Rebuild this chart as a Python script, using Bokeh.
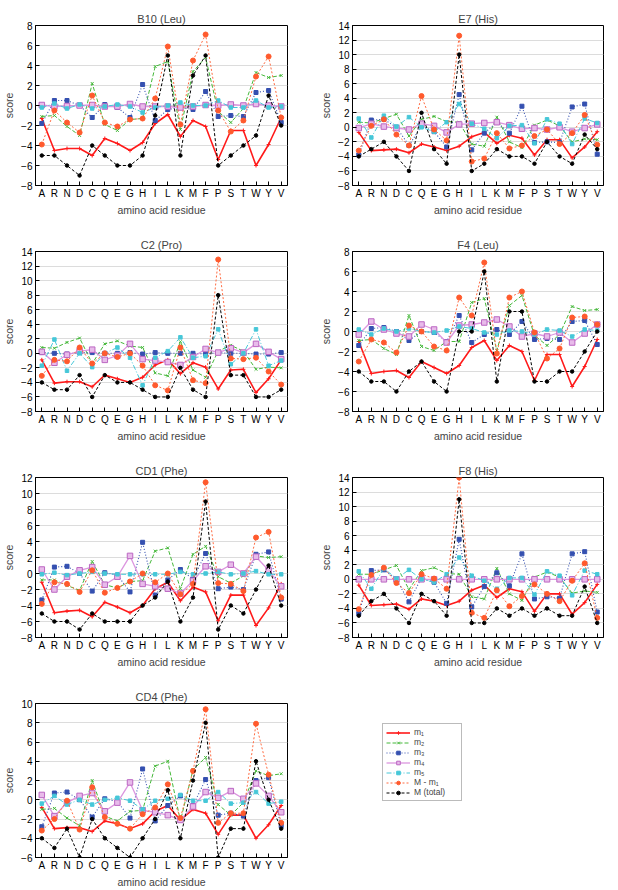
from bokeh.plotting import figure
from bokeh.layouts import column, row
from bokeh.models import (Range1d, FactorRange, SingleIntervalTicker, Legend,
                          LegendItem, ColumnDataSource)
from bokeh.embed import file_html
from bokeh.resources import INLINE

residues = ["A", "R", "N", "D", "C", "Q", "E", "G", "H", "I",
            "L", "K", "M", "F", "P", "S", "T", "W", "Y", "V"]

series_names = ["m\u2081", "m\u2082", "m\u2083", "m\u2084", "m\u2085", "M - m\u2081", "M (total)"]

# ---- B10 (Leu) ----
B10_m1 = [-1.3, -4.5, -4.3, -4.3, -5.0, -3.3, -3.8, -4.5, -3.7, -1.8, -0.9, -3.1, -1.5, -2.1, -5.4, -2.5, -2.5, -6.0, -3.9, -1.2]
B10_m2 = [-1.1, -1.0, -2.1, -3.0, 2.2, -1.9, -2.5, -1.4, -1.3, 3.9, 4.4, -2.4, 3.4, 4.8, -0.6, -1.7, -0.3, 3.3, 2.8, 3.0]
B10_m3 = [-1.8, 0.5, 0.5, 0.0, -1.2, 0.1, -0.2, -1.2, 2.1, -1.5, -0.4, -0.2, -0.4, 1.4, -1.1, -1.0, -1.1, 1.3, 1.5, -1.7]
B10_m4 = [0.05, -0.1, -0.05, 0.0, 0.05, -0.1, -0.1, 0.15, -0.1, -0.1, -0.1, -0.2, -0.1, 0.05, 0.0, 0.1, 0.0, 0.15, 0.0, -0.1]
B10_m5 = [-0.2, 0.2, -0.3, 0.1, -0.3, -0.1, 0.1, -0.1, -0.7, -0.2, 0.0, 0.3, 0.0, 0.0, 0.5, -0.2, -0.2, 0.5, -0.2, -0.1]
B10_Mm1 = [-3.9, -0.5, -1.7, -2.7, 1.0, -1.7, -2.1, -1.4, -1.3, 0.7, 5.9, -1.9, 4.5, 7.1, -0.5, -2.6, -1.5, 2.9, 4.9, -1.2]
B10_M = [-5, -5, -6, -7, -4, -5, -6, -6, -5, -1, 5, -5, 3, 5, -6, -5, -4, -3, 1, -2]

# ---- E7 (His) ----
E7_m1 = [-0.7, -3.2, -3.1, -3.0, -3.5, -2.3, -2.7, -3.2, -2.6, -1.3, -0.7, -2.2, -1.1, -1.5, -3.8, -1.7, -1.7, -4.2, -2.7, -0.6]
E7_m2 = [0.7, 0.6, 1.2, 1.8, -1.2, 1.1, 1.5, 0.8, 0.7, -2.3, -2.6, 1.4, -2.0, -2.8, 0.3, 1.0, 0.2, -2.0, -1.6, -1.7]
E7_m3 = [-3.8, 1.0, 1.1, 0.0, -2.5, 0.2, -0.6, -2.7, 4.5, -3.1, -0.8, 0.7, -0.8, 2.9, -2.1, -2.0, -2.1, 2.8, 3.2, -3.7]
E7_m4 = [-0.1, 0.5, 0.1, -0.1, -0.3, 0.5, 0.2, -0.7, 0.4, 0.5, 0.6, 0.7, 0.3, -0.2, -0.1, -0.3, 0.0, -0.6, -0.1, 0.4]
E7_m5 = [1.2, -1.4, 1.6, 0.1, 1.4, 0.0, -0.6, 0.7, 3.2, 0.5, -0.2, -1.5, 0.2, 0.3, -2.2, 1.1, 0.5, -2.3, 1.2, 0.6]
E7_Mm1 = [-3.2, 0.2, 1.1, -1.0, -2.5, 4.3, -0.3, -1.8, 12.6, -4.7, -4.3, -0.8, -2.9, -2.5, -1.2, -0.3, -2.3, -0.8, 1.7, -2.4]
E7_M = [-4, -3, -2, -4, -6, 2, -3, -5, 10, -6, -5, -3, -4, -4, -5, -2, -4, -5, -1, -3]

# ---- C2 (Pro) ----
C2_m1 = [-0.9, -4.1, -3.9, -3.9, -4.6, -3.0, -3.5, -4.0, -3.3, -1.6, -0.9, -2.8, -1.3, -1.9, -4.9, -2.3, -2.2, -5.4, -3.5, -0.9]
C2_m2 = [0.8, 0.7, 1.5, 2.1, -1.4, 1.3, 1.7, 1.0, 0.8, -2.7, -3.1, 1.6, -2.3, -3.3, 0.3, 1.1, 0.3, -2.2, -1.9, -2.0]
C2_m3 = [0.1, 0.0, -0.1, 0.1, 0.1, 0.0, 0.0, 0.1, -0.1, 0.1, 0.0, 0.0, 0.0, -0.1, 0.1, 0.0, 0.0, -0.1, -0.1, 0.1]
C2_m4 = [0.2, -1.3, -0.2, 0.3, 0.5, -0.9, -0.3, 1.3, -0.8, -1.0, -1.2, -1.6, -0.5, 0.6, 0.1, 0.7, 0.1, 1.3, 0.2, -0.8]
C2_m5 = [-1.7, 1.9, -2.4, 0.0, -1.9, 0.0, 0.8, -0.6, -4.4, -0.6, 0.3, 2.2, -0.6, -0.4, 3.3, -1.5, 0.0, 3.3, -1.7, -1.0]
C2_Mm1 = [-3.1, -0.9, -1.1, 0.8, -1.4, 0.0, -0.5, 0.0, -1.7, -4.4, -5.1, 0.8, -3.7, -4.1, 12.9, -0.7, -0.8, -0.6, -2.5, -4.3]
C2_M = [-4, -5, -5, -3, -6, -3, -4, -4, -5, -6, -6, -2, -5, -6, 8, -3, -3, -6, -6, -5]

# ---- F4 (Leu) ----
F4_m1 = [-1.0, -4.2, -4.0, -3.9, -4.6, -3.0, -3.6, -4.2, -3.4, -1.6, -0.9, -2.9, -1.4, -2.0, -4.9, -2.3, -2.3, -5.5, -3.5, -0.8]
F4_m2 = [-0.9, -0.8, -1.7, -2.3, 1.6, -1.5, -1.9, -1.0, -1.0, 2.9, 3.3, -1.9, 2.6, 3.6, -0.4, -1.4, -0.3, 2.5, 2.1, 2.2]
F4_m3 = [-1.4, 0.3, 0.4, 0.0, -0.9, 0.0, -0.1, -1.0, 1.6, -1.1, -0.3, 0.2, -0.3, 1.0, -0.8, -0.7, -0.8, 1.0, 1.1, -1.3]
F4_m4 = [-0.3, 1.0, 0.2, -0.2, -0.5, 0.7, 0.2, -1.1, 0.6, 0.7, 0.9, 1.2, 0.5, -0.5, -0.2, -0.5, -0.1, -1.1, -0.2, 0.7]
F4_m5 = [0.2, -0.3, 0.3, 0.0, 0.3, 0.0, -0.1, 0.1, 0.5, 0.3, -0.1, -0.3, 0.1, 0.0, -0.3, 0.2, 0.1, -0.5, 0.2, 0.1]
F4_Mm1 = [-3.0, -0.8, -1.1, -2.1, 0.6, 0.0, -1.5, -1.9, 3.4, 1.6, 6.9, -2.2, 3.4, 4.0, -0.1, -2.7, -1.7, 1.4, 1.5, 0.7]
F4_M = [-4, -5, -5, -6, -4, -3, -5, -6, 0, 0, 6, -5, 2, 2, -5, -5, -4, -4, -2, 0]

# ---- CD1 (Phe) ----
CD1_m1 = [-1.1, -4.9, -4.7, -4.6, -5.4, -3.6, -4.2, -4.9, -4.0, -1.9, -1.1, -3.4, -1.7, -2.3, -5.9, -2.7, -2.7, -6.5, -4.3, -1.3]
CD1_m2 = [-0.8, -0.8, -1.5, -2.1, 1.5, -1.4, -1.8, -1.0, -0.9, 2.8, 3.2, -1.9, 2.4, 3.4, -0.4, -1.2, -0.3, 2.2, 2.0, 2.1]
CD1_m3 = [-3.3, 0.8, 0.9, 0.0, -2.2, 0.1, -0.2, -2.3, 3.9, -2.7, -0.8, 0.5, -0.7, 2.5, -1.9, -1.7, -2.0, 2.4, 2.7, -3.2]
CD1_m4 = [0.5, -2.0, -0.4, 0.4, 0.8, -1.4, -0.4, 2.2, -1.3, -1.6, -1.9, -2.5, -0.9, 0.9, 0.2, 1.1, 0.0, 2.1, 0.4, -1.6]
CD1_m5 = [-0.1, 0.1, -0.2, 0.0, 0.2, 0.0, -0.1, -0.1, -0.1, -0.1, -0.1, 0.2, -0.1, 0.0, 0.2, -0.1, 0.0, 0.3, -0.1, -0.1]
CD1_Mm1 = [-3.8, -1.1, -1.3, -2.3, 0.4, -2.4, -1.8, -1.0, 0.0, -1.1, 0.0, -2.6, -1.3, 11.4, -1.2, -1.3, -2.2, 4.5, 5.2, -3.0]
CD1_M = [-5, -6, -6, -7, -5, -6, -6, -6, -4, -3, -1, -6, -3, 9, -7, -4, -5, -2, 1, -4]

# ---- F8 (His) ----
F8_m1 = [-0.8, -3.6, -3.5, -3.4, -4.1, -2.7, -3.0, -3.6, -3.0, -1.5, -0.8, -2.5, -1.3, -1.7, -4.4, -2.0, -2.0, -4.8, -3.2, -0.7]
F8_m2 = [0.7, 0.7, 1.3, 1.9, -1.4, 1.2, 1.6, 0.8, 0.7, -2.4, -2.7, 1.5, -2.0, -2.9, 0.3, 1.0, 0.3, -1.9, -1.6, -1.8]
F8_m3 = [-4.7, 1.2, 1.3, 0.0, -3.1, 0.2, -0.4, -3.3, 5.5, -3.8, -1.0, 0.9, -0.9, 3.5, -2.7, -2.4, -2.6, 3.5, 3.8, -4.5]
F8_m4 = [0.0, 0.0, 0.0, 0.0, 0.0, 0.0, 0.0, 0.0, 0.0, 0.0, 0.0, 0.0, 0.0, 0.0, 0.0, 0.0, 0.0, 0.0, 0.0, 0.0]
F8_m5 = [1.1, -1.3, 1.5, 0.1, 1.3, 0.0, -0.4, 0.7, 3.0, 0.5, -0.2, -1.3, 0.2, 0.2, -2.1, 1.1, 0.5, -2.2, 1.2, 0.7]
F8_Mm1 = [-4.1, 0.6, 1.6, -0.5, -1.9, 0.7, 0.1, -1.3, 14.0, -4.6, -5.3, -1.5, -3.7, -2.3, -0.7, -2.0, -3.0, -0.2, 2.2, -5.3]
F8_M = [-5, -3, -2, -4, -6, -2, -3, -5, 11, -6, -6, -4, -5, -4, -5, -4, -5, -5, -1, -6]

# ---- CD4 (Phe) ----
CD4_m1 = [-0.8, -3.0, -2.9, -2.9, -3.3, -2.2, -2.5, -3.0, -2.5, -1.2, -0.6, -2.1, -1.0, -1.4, -3.6, -1.6, -1.6, -4.0, -2.6, -0.6]
CD4_m2 = [-1.0, -0.9, -1.9, -2.7, 2.0, -1.7, -2.2, -1.2, -1.1, 3.5, 4.0, -2.2, 3.1, 4.4, -0.5, -1.6, -0.3, 3.0, 2.5, 2.7]
CD4_m3 = [-2.8, 0.7, 0.8, 0.0, -1.8, 0.1, -0.2, -1.9, 3.2, -2.2, -0.6, 0.4, -0.6, 2.1, -1.6, -1.4, -1.7, 2.0, 2.3, -2.7]
CD4_m4 = [0.5, -1.7, -0.3, 0.4, 0.7, -1.2, -0.3, 1.8, -1.1, -1.3, -1.6, -2.1, -0.7, 0.8, 0.2, 0.9, 0.1, 1.7, 0.4, -1.3]
CD4_m5 = [-0.4, 0.4, -0.5, 0.0, -0.5, 0.0, 0.2, -0.1, -1.0, -0.1, 0.1, 0.5, -0.1, -0.1, 0.8, -0.4, -0.3, 0.8, -0.4, -0.2]
CD4_Mm1 = [-3.2, -2.0, -0.1, -3.1, 1.3, -1.8, -2.5, -3.0, -1.5, -0.8, 1.6, -1.9, 3.0, 9.4, -2.4, -1.4, -1.4, 7.9, 2.6, -2.4]
CD4_M = [-4, -5, -3, -6, -2, -4, -5, -6, -4, -2, 1, -4, 2, 8, -6, -3, -3, 4, 0, -3]

panels = [
    ("B10 (Leu)", -8, 8, [B10_m1, B10_m2, B10_m3, B10_m4, B10_m5, B10_Mm1, B10_M]),
    ("E7 (His)", -8, 14, [E7_m1, E7_m2, E7_m3, E7_m4, E7_m5, E7_Mm1, E7_M]),
    ("C2 (Pro)", -8, 14, [C2_m1, C2_m2, C2_m3, C2_m4, C2_m5, C2_Mm1, C2_M]),
    ("F4 (Leu)", -8, 8, [F4_m1, F4_m2, F4_m3, F4_m4, F4_m5, F4_Mm1, F4_M]),
    ("CD1 (Phe)", -8, 12, [CD1_m1, CD1_m2, CD1_m3, CD1_m4, CD1_m5, CD1_Mm1, CD1_M]),
    ("F8 (His)", -8, 14, [F8_m1, F8_m2, F8_m3, F8_m4, F8_m5, F8_Mm1, F8_M]),
    ("CD4 (Phe)", -6, 10, [CD4_m1, CD4_m2, CD4_m3, CD4_m4, CD4_m5, CD4_Mm1, CD4_M]),
]

styles = [
    dict(color="#ff1a1a", lw=1.6, dash="solid", marker="cross", size=4, fill="#ff1a1a", mline="#ff1a1a"),
    dict(color="#45b83a", lw=1.0, dash="4 2", marker="x", size=4, fill="#45b83a", mline="#45b83a"),
    dict(color="#3550b0", lw=1.1, dash="1 2", marker="square", size=4, fill="#3550b0", mline="#3550b0"),
    dict(color="#dc96df", lw=1.3, dash="solid", marker="square", size=5.5, fill="#e8bbea", mline="#bb66c2"),
    dict(color="#46c7d8", lw=1.0, dash="5 2 1 2", marker="square", size=3.5, fill="#46c7d8", mline="#46c7d8"),
    dict(color="#ff6a40", lw=1.0, dash="2 2", marker="circle", size=5, fill="#ff5a2d", mline="#ff5a2d"),
    dict(color="#000000", lw=1.0, dash="3 2", marker="circle", size=3.5, fill="#000000", mline="#000000"),
]

FONT = "Liberation Sans"
row_heights = [227, 226, 227, 210]
row_tops = [25, 24, 24, 23]
frame_h = [160, 160, 160, 157]


def add_series(p, data, visible=True):
    rends = []
    for vals, st in zip(data, styles):
        src = ColumnDataSource(dict(x=residues, y=vals))
        lr = p.line("x", "y", source=src, line_color=st["color"], line_width=st["lw"],
                    line_dash=st["dash"], visible=visible)
        sr = p.scatter("x", "y", source=src, marker=st["marker"], size=st["size"],
                       fill_color=st["fill"], line_color=st["mline"], line_width=1.0,
                       visible=visible)
        rends.append([lr, sr])
    return rends


def make_panel(title, y0, y1, data, col, r):
    h = row_heights[r]
    top = row_tops[r]
    left, rb = (35, 22) if col == 0 else (43, 15)
    bottom = h - top - frame_h[r]
    p = figure(width=309, height=h, x_range=FactorRange(factors=residues),
               y_range=Range1d(y0, y1), output_backend="svg", toolbar_location=None,
               title=title, min_border_left=left, min_border_right=rb,
               min_border_top=top, min_border_bottom=bottom)
    p.title.align = "center"
    p.title.text_font = FONT
    p.title.text_font_size = "11px"
    p.title.text_font_style = "normal"
    p.title.standoff = 2
    p.title.offset = 0
    p.outline_line_color = "black"
    p.outline_line_width = 1
    p.outline_line_alpha = 1
    p.xgrid.visible = False
    p.ygrid.grid_line_color = "#dcdcdc"
    p.ygrid.grid_line_width = 1
    p.yaxis.ticker = SingleIntervalTicker(interval=2)
    p.yaxis.axis_label = "score"
    p.xaxis.axis_label = "amino acid residue"
    for ax in (p.xaxis[0], p.yaxis[0]):
        ax.axis_label_text_font = FONT
        ax.axis_label_text_font_size = "10.5px"
        ax.axis_label_text_font_style = "normal"
        ax.major_label_text_font = FONT
        ax.major_label_text_font_size = "10px"
        ax.major_label_text_color = "black"
        ax.major_tick_in = 4
        ax.major_tick_out = 0
        ax.minor_tick_in = 0
        ax.minor_tick_out = 0
        ax.axis_line_color = "black"
        ax.major_label_standoff = 3
        ax.axis_label_standoff = 3
    p.xaxis.major_label_standoff = 2
    p.xaxis.axis_label_standoff = 2
    add_series(p, data)
    return p


figs = []
for i, (t, y0, y1, d) in enumerate(panels):
    figs.append(make_panel(t, y0, y1, d, i % 2, i // 2))

# legend cell: same series as CD4, renderers hidden, only the legend shows
t, y0, y1, d = panels[6]
lg = figure(width=309, height=row_heights[3], x_range=FactorRange(factors=residues),
            y_range=Range1d(y0, y1), x_axis_type=None, y_axis_type=None,
            output_backend="svg", toolbar_location=None,
            min_border_left=0, min_border_right=0,
            min_border_top=row_tops[3], min_border_bottom=row_heights[3] - row_tops[3] - frame_h[3])
lg.outline_line_color = None
lg.xgrid.visible = False
lg.ygrid.visible = False
lg_rends = add_series(lg, d, visible=False)

items = [LegendItem(label=name, renderers=rr) for name, rr in zip(series_names, lg_rends)]
legend = Legend(items=items, location=(73, 56), click_policy="none")
legend.label_text_font = FONT
legend.label_text_font_size = "8.5px"
legend.label_height = 9
legend.label_width = 44
legend.glyph_height = 9
legend.glyph_width = 24
legend.spacing = 0
legend.padding = 3
legend.margin = 0
legend.label_standoff = 4
legend.border_line_color = "#777777"
legend.border_line_width = 1
legend.background_fill_alpha = 1
lg.add_layout(legend, "center")

layout = column(
    row(figs[0], figs[1]),
    row(figs[2], figs[3]),
    row(figs[4], figs[5]),
    row(figs[6], lg),
)

open("out.html", "w").write(file_html(layout, INLINE))
